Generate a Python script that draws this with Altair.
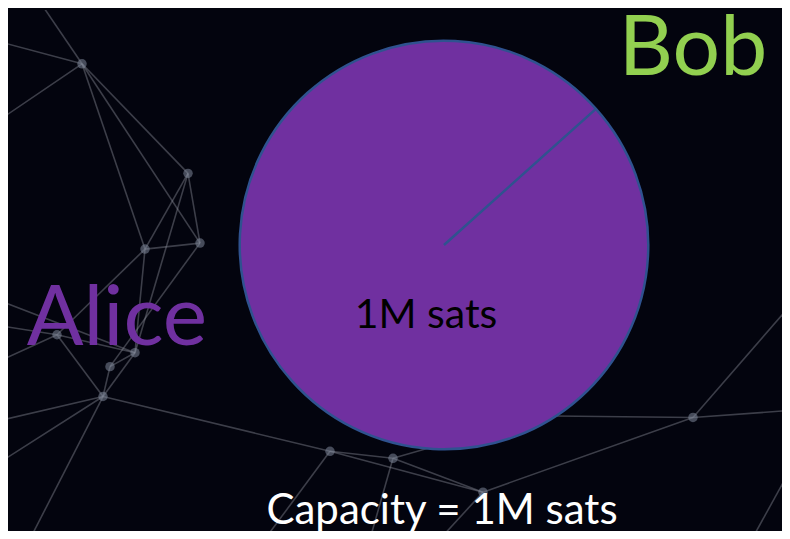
import math
import altair as alt
import pandas as pd

# ---- chart data ----
names = ["Alice", "Bob"]
balances = [1_000_000, 0]          # sats held by each side of the channel
slice_label = "1M sats"
capacity_label = "Capacity = 1M sats"
name_colors = ["#7030a0", "#92d050"]

# ---- decorative background network (slide pixel coordinates) ----
node_x = [82, 188, 145, 200, 57, 135, 110, 103, 330, 393, 483, 693]
node_y = [62, 172, 248, 242, 334, 352, 366, 396, 451, 458, 492, 417]

edge_x1 = [40, 0, 0, 82, 82, 82, 188, 188, 145, 145, 200, 188, 145, 0, 57, 57, 0,
           135, 110, 135, 0, 0, 103, 103, 0, 330, 330, 393, 393, 483, 330, 483,
           693, 693, 693, 393, 790]
edge_y1 = [0, 118, 40, 62, 62, 62, 172, 172, 248, 248, 242, 172, 248, 325, 334, 334, 360,
           352, 366, 352, 420, 462, 396, 396, 300, 451, 451, 458, 458, 492, 451, 492,
           417, 417, 417, 458, 470]
edge_x2 = [82, 82, 82, 145, 188, 200, 145, 200, 200, 135, 110, 135, 57, 57, 135, 103, 57,
           110, 103, 103, 103, 103, 330, 30, 135, 393, 265, 483, 370, 440, 483, 693,
           790, 790, 500, 560, 752]
edge_y2 = [62, 62, 62, 248, 172, 242, 248, 242, 242, 352, 366, 352, 334, 334, 352, 396, 334,
           366, 396, 396, 396, 396, 451, 539, 352, 458, 539, 492, 539, 539, 492, 417,
           305, 410, 415, 410, 539]

W, H = 774, 523
OX, OY = 8, 8  # page margin offset

xs = alt.Scale(domain=[OX, OX + W])
ys = alt.Scale(domain=[OY, OY + H], reverse=True)

edges_df = pd.DataFrame({"x1": edge_x1, "y1": edge_y1, "x2": edge_x2, "y2": edge_y2})
nodes_df = pd.DataFrame({"x": node_x, "y": node_y})

edges = alt.Chart(edges_df).mark_rule(
    clip=True, color="#8c8f9c", opacity=0.42, strokeWidth=1.6
).encode(
    x=alt.X("x1:Q", scale=xs, axis=None),
    y=alt.Y("y1:Q", scale=ys, axis=None),
    x2="x2:Q",
    y2="y2:Q",
)

nodes = alt.Chart(nodes_df).mark_circle(
    clip=True, size=90, color="#7d8799", opacity=0.55
).encode(
    x=alt.X("x:Q", scale=xs, axis=None),
    y=alt.Y("y:Q", scale=ys, axis=None),
)

pie_df = pd.DataFrame({"name": names, "balance": balances})
start = 0.84
pie = alt.Chart(pie_df).mark_arc(
    radius=204, stroke="#2f528f", strokeWidth=2.5
).encode(
    theta=alt.Theta("balance:Q", stack=True,
                    scale=alt.Scale(range=[start, start + 2 * math.pi])),
    color=alt.Color("name:N", scale=alt.Scale(domain=names, range=["#7030a0", "#7030a0"]),
                    legend=None),
    order=alt.Order("name:N"),
    x=alt.value(444 - OX),
    y=alt.value(243 - OY),
)


def label(text, cx, base_y, size, color):
    df = pd.DataFrame({"label": [text]})
    return alt.Chart(df).mark_text(
        font="Lato", fontSize=size, color=color, align="center", baseline="alphabetic"
    ).encode(
        text="label:N",
        x=alt.value(cx - OX),
        y=alt.value(base_y - OY),
    )


bob = label(names[1], 693, 73, 84, name_colors[1])
alice = label(names[0], 117, 343, 84, name_colors[0])
inner = label(slice_label, 426, 326, 41, "#000000")
cap = label(capacity_label, 442, 522, 42, "#ffffff")

chart = alt.layer(edges, nodes, pie, alice, bob, inner, cap).properties(
    width=W, height=H,
    autosize=alt.AutoSizeParams(type="fit", contains="padding"),
    padding=0,
    background="#03040e",
).configure_view(stroke=None)

chart.save("out.html", embed_options={"renderer": "svg", "actions": False})
